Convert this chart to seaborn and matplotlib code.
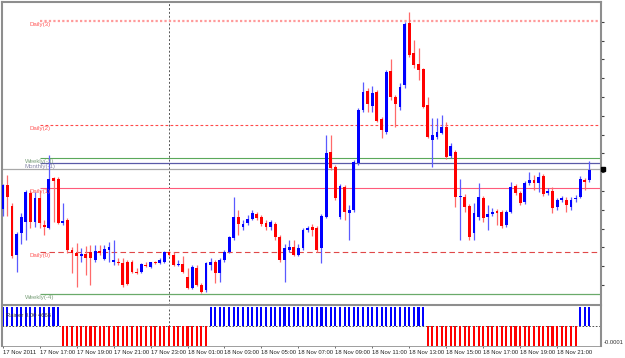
import numpy as np
import pandas as pd
import matplotlib
matplotlib.use("Agg")
import matplotlib.pyplot as plt
import matplotlib.transforms as mtransforms
import seaborn as sns

# ---------------- data (15-minute bars, 17 Nov 2011 15:00 -> 18 Nov 2011 22:45) -------------
opens = [
    1.35060, 1.35180, 1.35075, 1.34830, 1.34940, 1.34995, 1.35140, 1.34995,
    1.35115, 1.34980, 1.34965, 1.35215, 1.35210, 1.34990, 1.35005, 1.34855,
    1.34840, 1.34825, 1.34835, 1.34845, 1.34805, 1.34850, 1.34810, 1.34855,
    1.34795, 1.34795, 1.34790, 1.34795, 1.34795, 1.34745, 1.34745, 1.34780,
    1.34770, 1.34795, 1.34790, 1.34795, 1.34845, 1.34830, 1.34780, 1.34785,
    1.34720, 1.34665, 1.34765, 1.34680, 1.34655, 1.34780, 1.34795, 1.34740,
    1.34805, 1.34845, 1.34915, 1.35020, 1.34970, 1.34990, 1.35010, 1.35035,
    1.35020, 1.34990, 1.34970, 1.34985, 1.34920, 1.34805, 1.34855, 1.34870,
    1.34830, 1.34865, 1.34955, 1.34970, 1.34965, 1.34865, 1.35020, 1.35345,
    1.35270, 1.35020, 1.35170, 1.35040, 1.35055, 1.35290, 1.35555, 1.35650,
    1.35575, 1.35645, 1.35510, 1.35445, 1.35750, 1.35620, 1.35570, 1.35680,
    1.35990, 1.35840, 1.35785, 1.35760, 1.35580, 1.35405, 1.35420, 1.35440,
    1.35470, 1.35325, 1.35345, 1.35120, 1.35120, 1.35075, 1.34940, 1.35020,
    1.35115, 1.35020, 1.35035, 1.35050, 1.35045, 1.34980, 1.35045, 1.35175,
    1.35140, 1.35095, 1.35190, 1.35205, 1.35190, 1.35225, 1.35140, 1.35150,
    1.35070, 1.35105, 1.35105, 1.35070, 1.35110, 1.35120, 1.35205, 1.35205,
]
highs = [
    1.35185, 1.35230, 1.35090, 1.34945, 1.35040, 1.35155, 1.35155, 1.35145,
    1.35155, 1.35005, 1.35330, 1.35220, 1.35220, 1.35090, 1.35015, 1.34870,
    1.34890, 1.34865, 1.34875, 1.34880, 1.34880, 1.34880, 1.34880, 1.34895,
    1.34905, 1.34815, 1.34815, 1.34805, 1.34805, 1.34765, 1.34790, 1.34795,
    1.34795, 1.34800, 1.34815, 1.34850, 1.34850, 1.34845, 1.34805, 1.34825,
    1.34765, 1.34780, 1.34780, 1.34690, 1.34795, 1.34815, 1.34805, 1.34815,
    1.34855, 1.34925, 1.35120, 1.35055, 1.35005, 1.35030, 1.35055, 1.35045,
    1.35030, 1.35005, 1.35005, 1.34995, 1.34930, 1.34885, 1.34905, 1.34905,
    1.34885, 1.34965, 1.34975, 1.34985, 1.34975, 1.35035, 1.35430, 1.35430,
    1.35280, 1.35185, 1.35180, 1.35080, 1.35305, 1.35565, 1.35695, 1.35665,
    1.35675, 1.35655, 1.35520, 1.35755, 1.35810, 1.35630, 1.35690, 1.35995,
    1.36045, 1.35905, 1.35865, 1.35765, 1.35620, 1.35515, 1.35515, 1.35530,
    1.35495, 1.35390, 1.35355, 1.35210, 1.35135, 1.35085, 1.35090, 1.35190,
    1.35125, 1.35080, 1.35065, 1.35060, 1.35055, 1.35055, 1.35195, 1.35185,
    1.35150, 1.35200, 1.35245, 1.35230, 1.35245, 1.35235, 1.35165, 1.35170,
    1.35115, 1.35125, 1.35120, 1.35120, 1.35130, 1.35225, 1.35215, 1.35300,
]
lows = [
    1.35025, 1.35025, 1.34815, 1.34745, 1.34885, 1.34905, 1.34965, 1.34970,
    1.34965, 1.34930, 1.34960, 1.34995, 1.34985, 1.34980, 1.34840, 1.34740,
    1.34670, 1.34795, 1.34730, 1.34680, 1.34795, 1.34830, 1.34805, 1.34795,
    1.34780, 1.34780, 1.34670, 1.34680, 1.34740, 1.34735, 1.34740, 1.34770,
    1.34765, 1.34785, 1.34785, 1.34790, 1.34825, 1.34775, 1.34775, 1.34740,
    1.34660, 1.34660, 1.34675, 1.34640, 1.34645, 1.34755, 1.34690, 1.34695,
    1.34795, 1.34840, 1.34905, 1.34930, 1.34955, 1.34980, 1.35005, 1.35005,
    1.34975, 1.34955, 1.34955, 1.34905, 1.34795, 1.34695, 1.34845, 1.34825,
    1.34825, 1.34855, 1.34945, 1.34925, 1.34845, 1.34790, 1.35015, 1.35255,
    1.35105, 1.35010, 1.35005, 1.34905, 1.35045, 1.35280, 1.35545, 1.35545,
    1.35545, 1.35495, 1.35415, 1.35435, 1.35605, 1.35470, 1.35555, 1.35665,
    1.35820, 1.35765, 1.35705, 1.35565, 1.35415, 1.35270, 1.35410, 1.35435,
    1.35310, 1.35315, 1.35070, 1.34905, 1.35045, 1.34905, 1.34905, 1.35005,
    1.34995, 1.34955, 1.35025, 1.34980, 1.34965, 1.34970, 1.35040, 1.35130,
    1.35080, 1.35085, 1.35180, 1.35155, 1.35145, 1.35125, 1.35130, 1.35040,
    1.35055, 1.35095, 1.35045, 1.35055, 1.35095, 1.35115, 1.35155, 1.35195,
]
closes = [
    1.35180, 1.35120, 1.34825, 1.34935, 1.35020, 1.35145, 1.34995, 1.35115,
    1.34990, 1.34970, 1.35210, 1.35200, 1.34990, 1.35000, 1.34855, 1.34840,
    1.34825, 1.34835, 1.34815, 1.34815, 1.34850, 1.34840, 1.34860, 1.34870,
    1.34805, 1.34790, 1.34680, 1.34685, 1.34745, 1.34740, 1.34785, 1.34775,
    1.34795, 1.34790, 1.34805, 1.34845, 1.34830, 1.34780, 1.34785, 1.34745,
    1.34665, 1.34770, 1.34680, 1.34645, 1.34790, 1.34795, 1.34740, 1.34805,
    1.34845, 1.34920, 1.35020, 1.34985, 1.34985, 1.35010, 1.35040, 1.35015,
    1.34985, 1.34970, 1.34995, 1.34920, 1.34805, 1.34865, 1.34870, 1.34830,
    1.34865, 1.34955, 1.34965, 1.34955, 1.34855, 1.35025, 1.35340, 1.35265,
    1.35115, 1.35175, 1.35045, 1.35055, 1.35295, 1.35555, 1.35645, 1.35585,
    1.35640, 1.35500, 1.35455, 1.35745, 1.35620, 1.35585, 1.35670, 1.35985,
    1.35830, 1.35780, 1.35755, 1.35570, 1.35420, 1.35430, 1.35445, 1.35470,
    1.35320, 1.35375, 1.35120, 1.35125, 1.35070, 1.34920, 1.35040, 1.35120,
    1.35015, 1.35035, 1.35045, 1.35040, 1.34975, 1.35045, 1.35170, 1.35140,
    1.35090, 1.35190, 1.35205, 1.35190, 1.35220, 1.35135, 1.35150, 1.35065,
    1.35105, 1.35115, 1.35080, 1.35105, 1.35115, 1.35210, 1.35195, 1.35255,
]
indicator = [
     0.0001,  0.0001,  0.0001,  0.0001,  0.0001,  0.0001,  0.0001,  0.0001,
     0.0001,  0.0001,  0.0001,  0.0001,  0.0001, -0.0001, -0.0001, -0.0001,
    -0.0001, -0.0001, -0.0001, -0.0001, -0.0001, -0.0001, -0.0001, -0.0001,
    -0.0001, -0.0001, -0.0001, -0.0001, -0.0001, -0.0001, -0.0001, -0.0001,
    -0.0001, -0.0001, -0.0001, -0.0001, -0.0001, -0.0001, -0.0001, -0.0001,
    -0.0001, -0.0001, -0.0001, -0.0001, -0.0001,  0.0001,  0.0001,  0.0001,
     0.0001,  0.0001,  0.0001,  0.0001,  0.0001,  0.0001,  0.0001,  0.0001,
     0.0001,  0.0001,  0.0001,  0.0001,  0.0001,  0.0001,  0.0001,  0.0001,
     0.0001,  0.0001,  0.0001,  0.0001,  0.0001,  0.0001,  0.0001,  0.0001,
     0.0001,  0.0001,  0.0001,  0.0001,  0.0001,  0.0001,  0.0001,  0.0001,
     0.0001,  0.0001,  0.0001,  0.0001,  0.0001,  0.0001,  0.0001,  0.0001,
     0.0001,  0.0001,  0.0001,  0.0001, -0.0001, -0.0001, -0.0001, -0.0001,
    -0.0001, -0.0001, -0.0001, -0.0001, -0.0001, -0.0001, -0.0001, -0.0001,
    -0.0001, -0.0001, -0.0001, -0.0001, -0.0001, -0.0001, -0.0001, -0.0001,
    -0.0001, -0.0001, -0.0001, -0.0001, -0.0001, -0.0001, -0.0001, -0.0001,
    -0.0001, -0.0001, -0.0001, -0.0001, -0.0001,  0.0001,  0.0001,  0.0001,
]
level_names = ["Daily(3)", "Daily(2)", "Weekly(-3)", "Monthly(-1)", "Daily(1)", "Daily(0)", "Weekly(-4)"]
level_values = [1.36000, 1.35480, 1.35315, 1.35290, 1.35165, 1.34847, 1.34635]
level_start_bar = 8
day_separator_bar = 36
time_tick_bars = [0, 8, 16, 24, 32, 40, 48, 56, 64, 72, 80, 88, 96, 104, 112, 120]
time_tick_labels = ["17 Nov 2011", "17 Nov 17:00", "17 Nov 19:00", "17 Nov 21:00",
                    "17 Nov 23:00", "18 Nov 01:00", "18 Nov 03:00", "18 Nov 05:00",
                    "18 Nov 07:00", "18 Nov 09:00", "18 Nov 11:00", "18 Nov 13:00",
                    "18 Nov 15:00", "18 Nov 17:00", "18 Nov 19:00", "18 Nov 21:00"]
indicator_title = "Rainer 0.00 4666"

# ---------------- styling ----------------
level_styles = {
    "Daily(3)":    dict(color="#ff9a9a", ls=(0, (1, 1)), lw=1.6, tc="#ff5a5a"),
    "Daily(2)":    dict(color="#ff4a4a", ls=(0, (2.5, 2)), lw=0.8, tc="#ff5a5a"),
    "Weekly(-3)":  dict(color="#5aa85a", ls="-", lw=0.8, tc="#7aa07a"),
    "Monthly(-1)": dict(color="#5a5aa8", ls="-", lw=0.9, tc="#8a8aaa"),
    "Daily(1)":    dict(color="#ff5a7a", ls="-", lw=0.8, tc="#ff5a5a"),
    "Daily(0)":    dict(color="#e04848", ls=(0, (5, 3)), lw=0.8, tc="#ff5a5a"),
    "Weekly(-4)":  dict(color="#6aaa6a", ls="-", lw=0.9, tc="#7aa07a"),
}

W, H = 625, 358
sns.set_theme(style="white")
plt.rcParams["font.family"] = ["Liberation Sans", "DejaVu Sans"]
fig = plt.figure(figsize=(W / 100, H / 100), dpi=100)
fig.patch.set_facecolor("white")

frame_col = "#8e8e8e"
x_left, x_right = 2, 601
ax = fig.add_axes([x_left / W, 1 - 305 / H, (x_right - x_left) / W, 303 / H])
ax2 = fig.add_axes([x_left / W, 1 - 346 / H, (x_right - x_left) / W, 39 / H])

px_per_bar = 4.62
x0 = -(2.7 - x_left) / px_per_bar
x1 = x0 + (x_right - x_left) / px_per_bar

o = np.array(opens); h = np.array(highs); l = np.array(lows); c = np.array(closes)
n = len(o)
idx = np.arange(n)
up = c >= o
body_col = np.where(up, "#0000ff", "#ff0000")
wick_col = np.where(up, "#5a5aff", "#ff6a6a")

ax.set_facecolor("white")
ax.set_xlim(x0, x1)
ax.set_ylim(1.34580, 1.36095)

# level lines
for name, val in zip(level_names, level_values):
    st = level_styles[name]
    ax.hlines(val, level_start_bar, x1, colors=st["color"], linestyles=st["ls"], lw=st["lw"], zorder=1)
    ax.text(level_start_bar, val - 0.00018, name, ha="center", va="center",
            fontsize=4.4, color=st["tc"], zorder=5)

# bid line
ax.axhline(c[-1] + 0.00005, color="#a8a8a8", lw=0.9, zorder=1)

# day separator
for a in (ax, ax2):
    a.axvline(day_separator_bar, color="#555555", ls=(0, (2, 2)), lw=0.7, zorder=0.5)

# candles
ax.vlines(idx, l, h, colors=wick_col, lw=0.9, zorder=3)
body_h = np.maximum(np.abs(c - o), 0.00006)
ax.bar(idx, body_h, bottom=np.minimum(o, c), width=0.62, color=body_col, lw=0, zorder=4)

# price scale ticks (labels fall outside the picture)
ax.yaxis.tick_right()
ax.set_yticks(1.35996 - 0.00094 * np.arange(15))
ax.tick_params(axis="y", right=True, left=False, length=2.2, width=0.8, color="#404040",
               labelright=False, labelleft=False, direction="out", pad=1)
ax.tick_params(axis="x", bottom=False, labelbottom=False)
for side, sp in ax.spines.items():
    sp.set_color(frame_col)
    sp.set_linewidth(1.5)
    sp.set_visible(True)

# current price marker
trans = mtransforms.blended_transform_factory(ax.transAxes, ax.transData)
ax.plot([1.004], [c[-1] + 0.00005], marker="s", ms=2.2, color="black", transform=trans, clip_on=False, zorder=6)

# ---------------- indicator panel (seaborn) ----------------
df = pd.DataFrame({"bar": idx, "value": indicator,
                   "side": np.where(np.array(indicator) > 0, "up", "down")})
sns.barplot(data=df, x="bar", y="value", hue="side", palette={"up": "#0000ff", "down": "#ff0000"},
            native_scale=True, width=0.45, dodge=False, legend=False, errorbar=None,
            saturation=1, linewidth=0, ax=ax2)
ax2.set_xlim(x0, x1)
ax2.set_ylim(-0.0001, 0.000095)
ax2.axhline(0, color="#333333", ls=(0, (2, 2)), lw=0.6, zorder=0.4)
ax2.set_xlabel(""); ax2.set_ylabel("")
ax2.set_yticks([])
ax2.set_xticks(time_tick_bars)
ax2.set_xticklabels(time_tick_labels, ha="left", fontsize=4.2, color="#222222")
ax2.tick_params(axis="x", bottom=True, length=1.5, width=0.6, color="#555555", pad=1.5)
for side, sp in ax2.spines.items():
    sp.set_color(frame_col)
    sp.set_linewidth(1.5)
ax2.spines["top"].set_visible(False)
ax2.spines["bottom"].set_linewidth(0.6)
ax2.text(0.006, 0.78, indicator_title, transform=ax2.transAxes, fontsize=4.2, color="#333333",
         ha="left", va="center")
ax2.text(1.004, 0.08, "-0.0001", transform=ax2.transAxes, fontsize=4.2, color="#333333",
         ha="left", va="center")

fig.savefig("out.png", dpi=100, facecolor="white")
